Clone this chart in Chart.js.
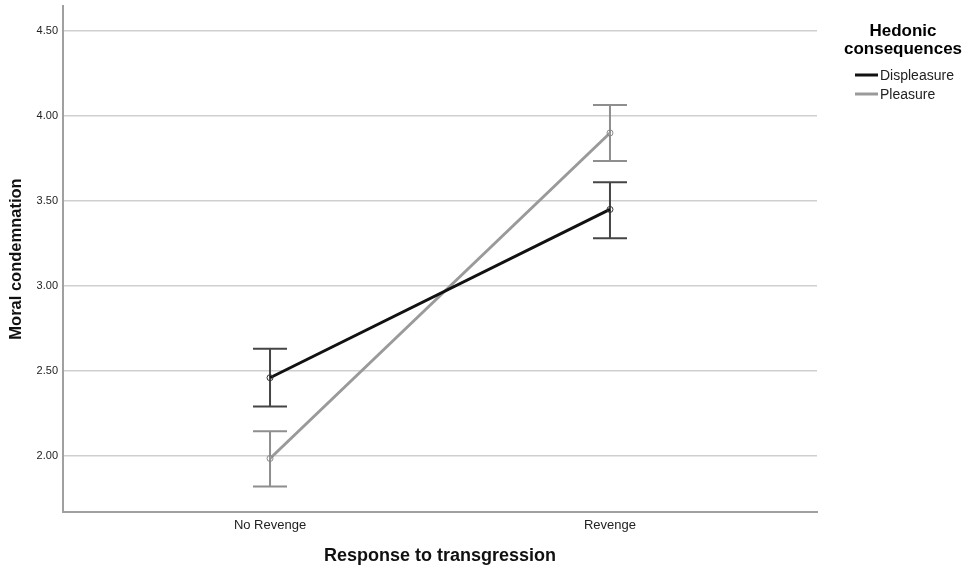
<!DOCTYPE html>
<html><head><meta charset="utf-8">
<script src="https://cdn.jsdelivr.net/npm/chart.js@4/dist/chart.umd.min.js"></script>
<style>html,body{margin:0;padding:0;background:#fff}#wrap{width:976px;height:569px}</style>
</head><body><div id="wrap"><canvas id="c" width="976" height="569"></canvas></div>
<script>
const categories = ["No Revenge", "Revenge"];
const seriesNames = ["Displeasure", "Pleasure"];
const displeasureMeans = [2.46, 3.45];
const displeasureLower = [2.29, 3.28];
const displeasureUpper = [2.63, 3.61];
const pleasureMeans = [1.985, 3.90];
const pleasureLower = [1.82, 3.735];
const pleasureUpper = [2.145, 4.065];
const yTicks = [2.0, 2.5, 3.0, 3.5, 4.0, 4.5];
const legendTitle = ["Hedonic", "consequences"];

const FONT = "'Liberation Sans', Arial, sans-serif";
const lineColors = ["#111111", "#9a9a9a"];
const barColors = ["#454545", "#8e8e8e"];

const errorData = [
  {lo: displeasureLower, hi: displeasureUpper},
  {lo: pleasureLower, hi: pleasureUpper}
];

const errorBarPlugin = {
  id: 'errbars',
  beforeDatasetsDraw(chart) {
    const ctx = chart.ctx, xs = chart.scales.x, ys = chart.scales.y;
    errorData.forEach((e, di) => {
      ctx.save();
      ctx.strokeStyle = barColors[di];
      ctx.lineWidth = 2;
      e.lo.forEach((lo, i) => {
        const x = xs.getPixelForValue(i);
        const yl = ys.getPixelForValue(lo), yh = ys.getPixelForValue(e.hi[i]);
        ctx.beginPath();
        ctx.moveTo(x, yl); ctx.lineTo(x, yh);
        ctx.moveTo(x - 17, yl); ctx.lineTo(x + 17, yl);
        ctx.moveTo(x - 17, yh); ctx.lineTo(x + 17, yh);
        ctx.stroke();
      });
      ctx.restore();
    });
  }
};

const legendPlugin = {
  id: 'customLegend',
  afterDraw(chart) {
    const ctx = chart.ctx;
    ctx.save();
    ctx.fillStyle = '#000';
    ctx.textAlign = 'center';
    ctx.textBaseline = 'middle';
    ctx.font = "bold 17px " + FONT;
    legendTitle.forEach((t, i) => ctx.fillText(t, 903, 31 + i * 18));
    ctx.textAlign = 'left';
    ctx.font = "14px " + FONT;
    seriesNames.forEach((n, i) => {
      const y = 75 + i * 19;
      ctx.strokeStyle = lineColors[i];
      ctx.lineWidth = 3;
      ctx.beginPath(); ctx.moveTo(855, y); ctx.lineTo(878, y); ctx.stroke();
      ctx.fillStyle = '#222';
      ctx.fillText(n, 880, y + 1);
    });
    ctx.restore();
  }
};

new Chart(document.getElementById('c'), {
  type: 'line',
  data: {
    datasets: [
      {label: seriesNames[0], data: displeasureMeans.map((v, i) => ({x: i, y: v})),
       borderColor: lineColors[0], borderWidth: 3, pointRadius: 3, pointBorderWidth: 1,
       pointBackgroundColor: 'rgba(255,255,255,0)', pointBorderColor: '#333'},
      {label: seriesNames[1], data: pleasureMeans.map((v, i) => ({x: i, y: v})),
       borderColor: lineColors[1], borderWidth: 3, pointRadius: 3, pointBorderWidth: 1,
       pointBackgroundColor: 'rgba(255,255,255,0)', pointBorderColor: '#888'}
    ]
  },
  options: {
    responsive: false, animation: false,
    layout: {padding: {top: 6, right: 159, left: 0, bottom: 0}},
    plugins: {legend: {display: false}, tooltip: {enabled: false}},
    scales: {
      x: {
        type: 'linear', min: -0.609, max: 1.609,
        afterBuildTicks(s) { s.ticks = categories.map((c, i) => ({value: i})); },
        afterFit(s) { s.height = 57; s.paddingLeft = 0; s.paddingRight = 0; },
        ticks: {callback: (v) => categories[v] ?? '', color: '#222', font: {family: FONT, size: 13}, padding: 6},
        grid: {display: false, drawTicks: false},
        border: {color: '#a0a0a0', width: 2},
        title: {display: true, text: 'Response to transgression', color: '#111', font: {family: FONT, size: 18, weight: 'bold'}, padding: {top: 4, bottom: 2}}
      },
      y: {
        min: 1.67, max: 4.647,
        afterBuildTicks(s) { s.ticks = yTicks.map(v => ({value: v})); },
        afterFit(s) { s.width = 63; s.paddingTop = 0; s.paddingBottom = 0; },
        ticks: {callback: (v) => Number(v).toFixed(2), color: '#222', font: {family: FONT, size: 11}, padding: 5},
        grid: {color: '#cfcfcf', lineWidth: 1.5, drawTicks: false},
        border: {color: '#a0a0a0', width: 2},
        title: {display: true, text: 'Moral condemnation', color: '#111', font: {family: FONT, size: 16.5, weight: 'bold'}, padding: {top: 7, bottom: 4}}
      }
    }
  },
  plugins: [errorBarPlugin, legendPlugin]
});
</script>
</body></html>
